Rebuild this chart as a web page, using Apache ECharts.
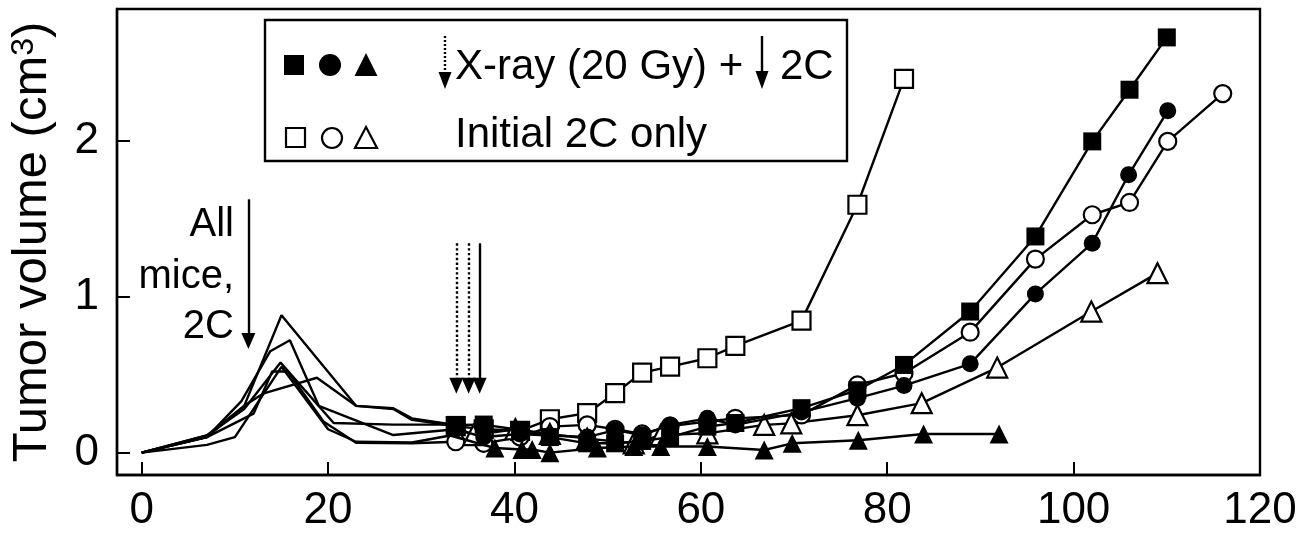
<!DOCTYPE html>
<html lang="en">
<head>
    <meta charset="UTF-8">
    <title>Tumor volume</title>
    <script src="https://cdn.jsdelivr.net/npm/echarts@6.0.0/dist/echarts.min.js"></script>
    <style>
        html, body { margin: 0; padding: 0; background: #fff; }
        #chart { width: 1315px; height: 533px; }
    </style>
</head>
<body>
<div id="chart"></div>
<script>
	// days after inoculation / tumor volume (cm3)
	var sqFilledDays = [0, 7, 11, 15, 23, 27, 29, 33.7, 36.7, 40.6, 43.8, 47.8, 50.8, 53.7, 56.7, 60.7, 63.7, 70.8, 76.8, 81.8, 88.9, 95.9, 102, 106, 110];
	var sqFilledVals = [0, 0.11, 0.30, 0.88, 0.30, 0.285, 0.22, 0.178, 0.18, 0.145, 0.10, 0.06, 0.06, 0.075, 0.10, 0.167, 0.19, 0.285, 0.40, 0.562, 0.904, 1.385, 1.994, 2.325, 2.66];

	var ciFilledDays = [0, 7, 10.7, 13.8, 15.9, 19, 27, 33.7, 36.7, 40.6, 43.8, 47.8, 50.8, 53.7, 56.7, 60.7, 63.7, 70.8, 76.8, 81.8, 88.9, 95.9, 102, 105.9, 110.1];
	var ciFilledVals = [0, 0.10, 0.33, 0.65, 0.72, 0.30, 0.113, 0.15, 0.10, 0.12, 0.11, 0.10, 0.145, 0.113, 0.178, 0.22, 0.178, 0.26, 0.349, 0.43, 0.569, 1.017, 1.342, 1.78, 2.19];

	var trFilledDays = [0, 7, 10, 15, 20, 23, 29, 33.1, 37.9, 40.8, 41.9, 43.8, 48.9, 52.8, 55.7, 60.7, 66.8, 69.8, 76.9, 83.9, 92];
	var trFilledVals = [0, 0.05, 0.10, 0.55, 0.15, 0.07, 0.065, 0.11, 0.03, 0.02, 0.02, 0.0, 0.03, 0.04, 0.04, 0.04, 0.017, 0.06, 0.08, 0.12, 0.12];

	var sqOpenDays = [0, 7, 11, 13.1, 18.8, 23, 27, 29, 33.7, 36.7, 40.6, 43.8, 47.8, 50.8, 53.7, 56.7, 60.7, 63.7, 70.8, 76.8, 81.8];
	var sqOpenVals = [0, 0.10, 0.30, 0.38, 0.48, 0.30, 0.28, 0.21, 0.17, 0.15, 0.14, 0.214, 0.253, 0.381, 0.513, 0.551, 0.605, 0.684, 0.846, 1.588, 2.394];

	var ciOpenDays = [0, 7, 12, 14, 15.7, 19.5, 23, 29, 33.7, 36.7, 40.6, 43.8, 47.8, 50.8, 53.7, 56.7, 60.7, 63.7, 70.8, 76.8, 81.8, 88.9, 95.9, 102, 106, 110.1, 116];
	var ciOpenVals = [0, 0.10, 0.25, 0.52, 0.52, 0.20, 0.064, 0.06, 0.07, 0.06, 0.10, 0.167, 0.178, 0.15, 0.12, 0.17, 0.20, 0.22, 0.242, 0.434, 0.509, 0.772, 1.24, 1.524, 1.603, 1.994, 2.30];

	var trOpenDays = [0, 7, 11, 14.9, 20.6, 27, 33.1, 35.6, 40.1, 43.8, 47.8, 52.8, 55.7, 60.7, 66.8, 69.7, 76.8, 83.7, 91.8, 101.9, 109];
	var trOpenVals = [0, 0.11, 0.28, 0.577, 0.19, 0.18, 0.18, 0.113, 0.15, 0.12, 0.09, 0.06, 0.113, 0.124, 0.178, 0.188, 0.24, 0.317, 0.545, 0.904, 1.15];

	var xTicks = [0, 20, 40, 60, 80, 100, 120];
	var yTicks = [0, 1, 2];

	// arrows: [day, top, head] ; dotted = X-ray, solid = 2C
	var arrowAll = [11.45, 1.623, 0.716];
	var arrowXray = [[33.76, 1.341, 0.429], [35.08, 1.341, 0.429]];
	var arrowTwoC = [36.26, 1.341, 0.429];

	var markerStart = 33.5; // no markers on the early part of the curves
	var FONT = '"Liberation Sans", Arial, sans-serif';

	function pairs(days, vals) {
		var out = [];
		for (var i = 0; i < days.length; i++) {
			out.push([days[i], vals[i]]);
		}
		return out;
	}

	function group(name, days, vals, shape, filled, size) {
		return {
			name: name,
			type: 'line',
			data: pairs(days, vals),
			symbol: function (value) {
				return value[0] < markerStart ? 'none' : shape;
			},
			symbolSize: size,
			showAllSymbol: true,
			lineStyle: {color: '#000', width: 2.4},
			itemStyle: filled ? {color: '#000'} : {color: '#fff', borderColor: '#000', borderWidth: 2.2},
			emphasis: {disabled: true},
			z: filled ? 3 : 2
		};
	}

	function arrowLine(a, dotted) {
		return [
			{coord: [a[0], a[1]], lineStyle: {type: dotted ? 'dotted' : 'solid', color: '#000', width: 2.4}},
			{coord: [a[0], a[2]]}
		];
	}

	var series = [
		group('sqOpen', sqOpenDays, sqOpenVals, 'rect', false, 18),
		group('ciOpen', ciOpenDays, ciOpenVals, 'circle', false, 17),
		group('trOpen', trOpenDays, trOpenVals, 'triangle', false, 20),
		group('sqFilled', sqFilledDays, sqFilledVals, 'rect', true, 18),
		group('ciFilled', ciFilledDays, ciFilledVals, 'circle', true, 17),
		group('trFilled', trFilledDays, trFilledVals, 'triangle', true, 19)
	];
	series[0].markLine = {
		silent: true,
		animation: false,
		symbol: ['none', 'triangle'],
		symbolSize: [14, 16],
		label: {show: false},
		emphasis: {disabled: true},
		data: [
			arrowLine(arrowAll, false),
			arrowLine(arrowXray[0], true),
			arrowLine(arrowXray[1], true),
			arrowLine(arrowTwoC, false)
		]
	};

	var txt = function (text, x, y, size, align) {
		return {
			type: 'text', z: 100,
			style: {
				text: text, x: x, y: y, fill: '#000',
				font: size + 'px ' + FONT,
				align: align, verticalAlign: 'middle',
				textAlign: align, textVerticalAlign: 'middle'
			}
		};
	};

	var graphic = [
		// legend box
		{type: 'rect', z: 90, shape: {x: 265, y: 20, width: 582, height: 141},
			style: {fill: '#fff', stroke: '#000', lineWidth: 2.4}},
		{type: 'rect', z: 100, shape: {x: 284, y: 55, width: 20, height: 20}, style: {fill: '#000'}},
		{type: 'circle', z: 100, shape: {cx: 330, cy: 65, r: 11}, style: {fill: '#000'}},
		{type: 'polygon', z: 100, shape: {points: [[366, 53], [377.5, 76], [354.5, 76]]}, style: {fill: '#000'}},
		{type: 'rect', z: 100, shape: {x: 286, y: 128, width: 19, height: 19},
			style: {fill: '#fff', stroke: '#000', lineWidth: 2.2}},
		{type: 'circle', z: 100, shape: {cx: 332, cy: 138, r: 10},
			style: {fill: '#fff', stroke: '#000', lineWidth: 2.2}},
		{type: 'polygon', z: 100, shape: {points: [[366, 127], [377, 148], [355, 148]]},
			style: {fill: '#fff', stroke: '#000', lineWidth: 2.2}},
		{type: 'line', z: 100, shape: {x1: 445, y1: 36, x2: 445, y2: 76},
			style: {stroke: '#000', lineWidth: 2.4, lineDash: [2, 2]}},
		{type: 'polygon', z: 100, shape: {points: [[438.5, 72], [451.5, 72], [445, 89]]}, style: {fill: '#000'}},
		{type: 'line', z: 100, shape: {x1: 762, y1: 36, x2: 762, y2: 74},
			style: {stroke: '#000', lineWidth: 2.4}},
		{type: 'polygon', z: 100, shape: {points: [[755.5, 71], [768.5, 71], [762, 89]]}, style: {fill: '#000'}},
		txt('X-ray (20 Gy) +', 455, 67, 42, 'left'),
		txt('2C', 780, 67, 42, 'left'),
		txt('Initial 2C only', 455, 135, 42, 'left'),
		// annotation for the first arrow
		txt('All', 234, 225, 40, 'right'),
		txt('mice,', 234, 277, 40, 'right'),
		txt('2C', 234, 327, 40, 'right')
	];

	var chart = echarts.init(document.getElementById('chart'));
	var option = {
		animation: false,
		backgroundColor: '#fff',
		textStyle: {fontFamily: FONT},
		grid: {
			left: 117, top: 9, right: 55, bottom: 58,
			show: true, borderColor: '#000', borderWidth: 2.4,
			containLabel: false
		},
		xAxis: {
			type: 'value',
			min: -2.65,
			max: 120,
			splitLine: {show: false},
			axisLine: {onZero: false, lineStyle: {color: '#000', width: 2.4}},
			axisTick: {inside: true, length: 13, lineStyle: {color: '#000', width: 2}, customValues: xTicks},
			axisLabel: {color: '#000', fontSize: 44, fontFamily: FONT, margin: 14, customValues: xTicks}
		},
		yAxis: {
			type: 'value',
			min: -0.143,
			max: 2.842,
			splitLine: {show: false},
			axisLine: {onZero: false, lineStyle: {color: '#000', width: 2.4}},
			axisTick: {inside: true, length: 13, lineStyle: {color: '#000', width: 2}, customValues: yTicks},
			axisLabel: {color: '#000', fontSize: 44, fontFamily: FONT, margin: 18, customValues: yTicks},
			name: '{a|Tumor volume (cm}{s|3}{a|)}',
			nameLocation: 'middle',
			nameRotate: 90,
			nameGap: 60,
			nameTextStyle: {
				rich: {
					a: {fontSize: 49, fontFamily: FONT, color: '#000'},
					s: {fontSize: 32, fontFamily: FONT, color: '#000', verticalAlign: 'top'}
				}
			}
		},
		series: series,
		graphic: graphic
	};
	chart.setOption(option);
</script>
</body>
</html>
